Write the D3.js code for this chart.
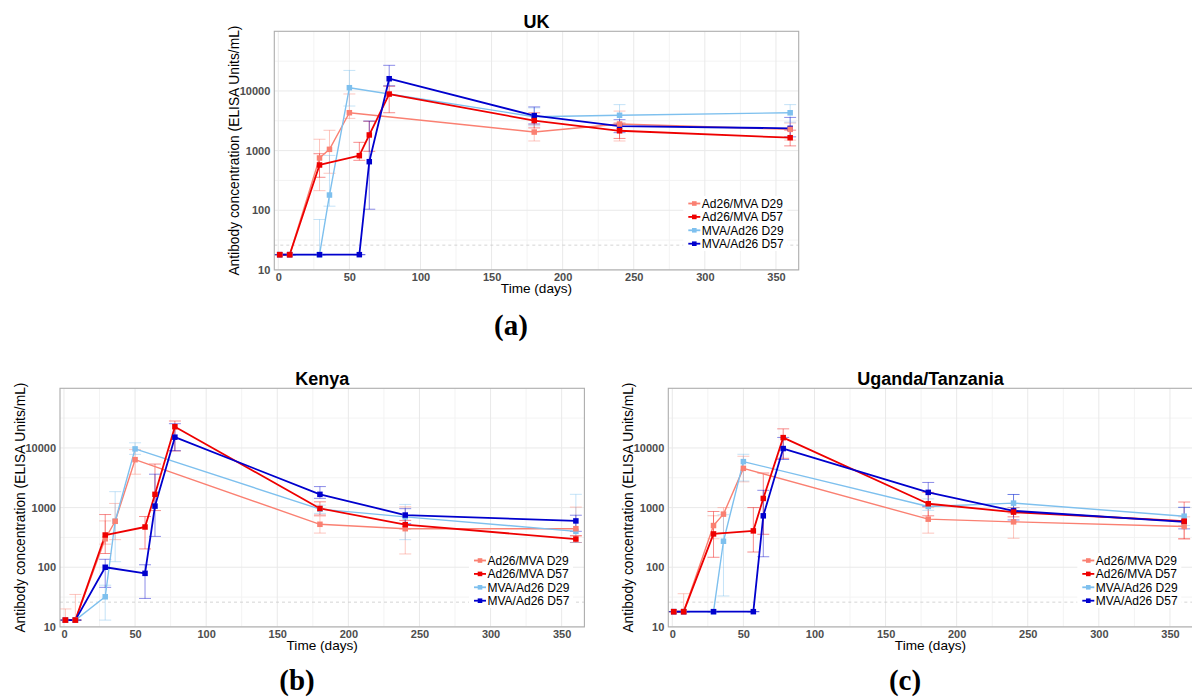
<!DOCTYPE html>
<html>
<head>
<meta charset="utf-8">
<script src="https://cdn.jsdelivr.net/npm/d3@7"></script>
<style>
  body { margin: 0; background: #fff; }
  svg { display: block; font-family: "Liberation Sans", Arial, sans-serif; }
</style>
</head>
<body>
<svg id="fig" width="1192" height="698"></svg>
<script>
// ---- Data -------------------------------------------------------------
const seriesNames  = ["Ad26/MVA D29", "Ad26/MVA D57", "MVA/Ad26 D29", "MVA/Ad26 D57"];
const seriesColors = ["#FA8072", "#EE0000", "#7EC0EE", "#0000CD"];

// sampling days for the two dosing schedules
const daysD29 = [1, 8, 29, 36, 50, 180, 240, 360];
const daysD57 = [1, 8, 29, 57, 64, 78, 180, 240, 360];

const xTicks = [0, 50, 100, 150, 200, 250, 300, 350];
const yTicks = [10, 100, 1000, 10000];
const lloq = 26;

// UK: geometric means with 95% CI
const ukAd26D29    = [18, 18, 752, 1050, 4315, 2045, 2790, 2270];
const ukAd26D29Lo  = [18, 18, 213, 417, 3470, 1450, 1450, 1500];
const ukAd26D29Hi  = [18, 18, 1550, 2190, 8900, 2700, 4600, 2900];
const ukAd26D57    = [18, 18, 574, 822, 1830, 8870, 3180, 2150, 1645];
const ukAd26D57Lo  = [18, 18, 357, 687, 972, 4315, 2400, 1600, 1200];
const ukAd26D57Hi  = [18, 18, 887, 1377, 3100, 12000, 4300, 2900, 2200];
const ukMvaD29     = [18, 18, 18, 180, 11330, 3700, 3910, 4310];
const ukMvaD29Lo   = [18, 18, 18, 117, 5590, 2600, 2800, 3000];
const ukMvaD29Hi   = [18, 18, 70, 830, 22100, 5200, 5900, 5900];
const ukMvaD57     = [18, 18, 18, 18, 652, 16030, 3850, 2580, 2360];
const ukMvaD57Lo   = [18, 18, 18, 18, 104, 12200, 2800, 2000, 1700];
const ukMvaD57Hi   = [18, 18, 18, 18, 3130, 26900, 5400, 3300, 3600];

// Kenya
const keAd26D29    = [13, 13, 300, 590, 6360, 525, 443, 443];
const keAd26D29Lo  = [13, 13, 244, 290, 3630, 374, 167, 330];
const keAd26D29Hi  = [20, 35, 598, 1175, 9380, 720, 1030, 1020];
const keAd26D57    = [13, 13, 347, 473, 1668, 22700, 967, 518, 297];
const keAd26D57Lo  = [13, 13, 170, 203, 891, 8900, 750, 440, 260];
const keAd26D57Hi  = [13, 13, 765, 708, 5370, 28300, 1250, 610, 340];
const keMvaD29     = [13, 13, 32, 590, 9640, 942, 700, 400];
const keMvaD29Lo   = [13, 13, 13, 124, 7800, 800, 290, 260];
const keMvaD29Hi   = [13, 13, 50, 1850, 12200, 1100, 1130, 1670];
const keMvaD57     = [13, 13, 100, 79, 1060, 15150, 1668, 750, 598];
const keMvaD57Lo   = [13, 13, 46, 30, 329, 9000, 1430, 540, 400];
const keMvaD57Hi   = [13, 13, 136, 110, 3630, 25500, 2250, 960, 745];

// Uganda/Tanzania
const utAd26D29    = [18, 18, 500, 777, 4550, 640, 577, 482];
const utAd26D29Lo  = [18, 18, 300, 380, 2700, 373, 306, 300];
const utAd26D29Hi  = [18, 36, 730, 1000, 7250, 1000, 800, 700];
const utAd26D57    = [18, 18, 362, 407, 1425, 14900, 1160, 840, 592];
const utAd26D57Lo  = [18, 18, 147, 180, 357, 6700, 728, 700, 299];
const utAd26D57Hi  = [18, 18, 861, 1000, 3800, 20900, 1800, 1000, 1240];
const utMvaD29     = [18, 18, 18, 273, 5900, 1045, 1190, 718];
const utMvaD29Lo   = [18, 18, 18, 33, 2790, 900, 1000, 500];
const utMvaD29Hi   = [18, 18, 18, 760, 7830, 1400, 1660, 1010];
const utMvaD57     = [18, 18, 18, 18, 728, 9770, 1800, 883, 577];
const utMvaD57Lo   = [18, 18, 18, 18, 150, 6400, 1045, 620, 440];
const utMvaD57Hi   = [18, 18, 18, 18, 1950, 15000, 2640, 1660, 1010];

// ---- Assemble panel tables ---------------------------------------------
function series(i, days, mean, lo, hi) {
  return {
    name: seriesNames[i], color: seriesColors[i], thick: i % 2 === 1,
    pts: days.map((d, k) => ({ day: d, v: mean[k], lo: lo[k], hi: hi[k] }))
  };
}
const panels = [
  { title: "UK", tag: "(a)", left: 274.3, top: 31.3, tagX: 511, tagY: 335,
    series: [series(0, daysD29, ukAd26D29, ukAd26D29Lo, ukAd26D29Hi),
             series(1, daysD57, ukAd26D57, ukAd26D57Lo, ukAd26D57Hi),
             series(2, daysD29, ukMvaD29, ukMvaD29Lo, ukMvaD29Hi),
             series(3, daysD57, ukMvaD57, ukMvaD57Lo, ukMvaD57Hi)] },
  { title: "Kenya", tag: "(b)", left: 60, top: 388.3, tagX: 297, tagY: 690,
    series: [series(0, daysD29, keAd26D29, keAd26D29Lo, keAd26D29Hi),
             series(1, daysD57, keAd26D57, keAd26D57Lo, keAd26D57Hi),
             series(2, daysD29, keMvaD29, keMvaD29Lo, keMvaD29Hi),
             series(3, daysD57, keMvaD57, keMvaD57Lo, keMvaD57Hi)] },
  { title: "Uganda/Tanzania", tag: "(c)", left: 668.3, top: 388.3, tagX: 905, tagY: 690,
    series: [series(0, daysD29, utAd26D29, utAd26D29Lo, utAd26D29Hi),
             series(1, daysD57, utAd26D57, utAd26D57Lo, utAd26D57Hi),
             series(2, daysD29, utMvaD29, utMvaD29Lo, utMvaD29Hi),
             series(3, daysD57, utMvaD57, utMvaD57Lo, utMvaD57Hi)] }
];

// ---- Drawing -----------------------------------------------------------
const W = 524.4, H = 238.6;
const svg = d3.select("#fig");

panels.forEach((p, pi) => {
  const x = d3.scaleLinear().domain([-2.8, 366]).range([0, W]);
  const y = d3.scaleLog().domain([10, 1e5]).range([H, 0]);
  const g = svg.append("g").attr("transform", `translate(${p.left},${p.top})`);

  g.append("defs").append("clipPath").attr("id", "clip" + pi)
    .append("rect").attr("width", W).attr("height", H);

  // grid: minor then major
  const xMinor = d3.range(25, 366, 50);
  const yMinor = [1.5, 2.5, 3.5, 4.5].map(e => Math.pow(10, e));
  const grid = g.append("g");
  grid.selectAll(".vmin").data(xMinor).join("line")
    .attr("x1", d => x(d)).attr("x2", d => x(d)).attr("y1", 0).attr("y2", H)
    .attr("stroke", "#F3F3F3").attr("stroke-width", 1);
  grid.selectAll(".hmin").data(yMinor).join("line")
    .attr("x1", 0).attr("x2", W).attr("y1", d => y(d)).attr("y2", d => y(d))
    .attr("stroke", "#F3F3F3").attr("stroke-width", 1);
  grid.selectAll(".vmaj").data(xTicks).join("line")
    .attr("x1", d => x(d)).attr("x2", d => x(d)).attr("y1", 0).attr("y2", H)
    .attr("stroke", "#E9E9E9").attr("stroke-width", 1);
  grid.selectAll(".hmaj").data(yTicks).join("line")
    .attr("x1", 0).attr("x2", W).attr("y1", d => y(d)).attr("y2", d => y(d))
    .attr("stroke", "#E9E9E9").attr("stroke-width", 1);

  // lower limit of quantification
  g.append("line").attr("x1", 0).attr("x2", W).attr("y1", y(lloq)).attr("y2", y(lloq))
    .attr("stroke", "#C8C8C8").attr("stroke-width", 0.8).attr("stroke-dasharray", "3,3");

  const data = g.append("g").attr("clip-path", `url(#clip${pi})`);

  // error bars
  const capHalf = 4.2; // days
  p.series.forEach(s => {
    const eb = data.append("g").attr("stroke", s.color).attr("stroke-opacity", 0.45)
      .attr("stroke-width", 1).attr("fill", "none");
    s.pts.forEach(d => {
      eb.append("line").attr("x1", x(d.day)).attr("x2", x(d.day))
        .attr("y1", y(d.lo)).attr("y2", y(d.hi));
      [d.lo, d.hi].forEach(v => eb.append("line")
        .attr("x1", x(d.day - capHalf)).attr("x2", x(d.day + capHalf))
        .attr("y1", y(v)).attr("y2", y(v)));
    });
  });

  // lines
  const line = d3.line().x(d => x(d.day)).y(d => y(d.v));
  [0, 2, 1, 3].forEach(i => {
    const s = p.series[i];
    data.append("path").datum(s.pts).attr("d", line).attr("fill", "none")
      .attr("stroke", s.color).attr("stroke-width", s.thick ? 1.8 : 1.4)
      .attr("stroke-linejoin", "round");
  });

  // points
  const ps = 5.5;
  [2, 3, 0, 1].forEach(i => {
    const s = p.series[i];
    data.append("g").selectAll("rect").data(s.pts).join("rect")
      .attr("x", d => x(d.day) - ps / 2).attr("y", d => y(d.v) - ps / 2)
      .attr("width", ps).attr("height", ps).attr("fill", s.color);
  });

  // panel border
  g.append("rect").attr("width", W).attr("height", H).attr("fill", "none")
    .attr("stroke", "#ADADAD").attr("stroke-width", 1.1);

  // axes
  const xa = g.append("g").attr("transform", `translate(0,${H})`)
    .call(d3.axisBottom(x).tickValues(xTicks).tickSize(0).tickPadding(3.2).tickFormat(d3.format("d")));
  const ya = g.append("g")
    .call(d3.axisLeft(y).tickValues(yTicks).tickSize(0).tickPadding(4).tickFormat(d3.format("d")));
  [xa, ya].forEach(a => {
    a.select(".domain").remove();
    a.selectAll("text").attr("fill", "#4D4D4D").attr("font-size", 11)
      .attr("font-weight", "bold").attr("font-family", "Liberation Sans, Arial, sans-serif");
  });

  // titles
  g.append("text").attr("x", W / 2).attr("y", -3.5).attr("text-anchor", "middle")
    .attr("font-size", 18).attr("font-weight", "bold").attr("fill", "#000").text(p.title);
  g.append("text").attr("x", W / 2).attr("y", H + 23).attr("text-anchor", "middle")
    .attr("font-size", 13.6).attr("fill", "#000").text("Time (days)");
  g.append("text").attr("transform", `translate(-35,${H / 2}) rotate(-90)`)
    .attr("text-anchor", "middle").attr("font-size", 13.8).attr("fill", "#000")
    .text("Antibody concentration (ELISA Units/mL)");

  // legend
  const lg = g.append("g").attr("transform", "translate(414,172.2)");
  lg.append("rect").attr("x", -5).attr("y", -7.5).attr("width", 104).attr("height", 55)
    .attr("fill", "#fff");
  p.series.forEach((s, i) => {
    const row = lg.append("g").attr("transform", `translate(0,${i * 13.4})`);
    row.append("line").attr("x1", 0).attr("x2", 12).attr("y1", 0).attr("y2", 0)
      .attr("stroke", s.color).attr("stroke-width", 1.8);
    row.append("rect").attr("x", 3.7).attr("y", -2.3).attr("width", 4.6).attr("height", 4.6)
      .attr("fill", s.color);
    row.append("text").attr("x", 13.5).attr("y", 4.3).attr("font-size", 12)
      .attr("fill", "#000").text(s.name);
  });

  // sub-figure tag
  svg.append("text").attr("x", p.tagX).attr("y", p.tagY).attr("text-anchor", "middle")
    .attr("font-family", "Liberation Serif, 'DejaVu Serif', serif")
    .attr("font-weight", "bold").attr("font-size", 29).attr("fill", "#000").text(p.tag);
});
</script>
</body>
</html>
